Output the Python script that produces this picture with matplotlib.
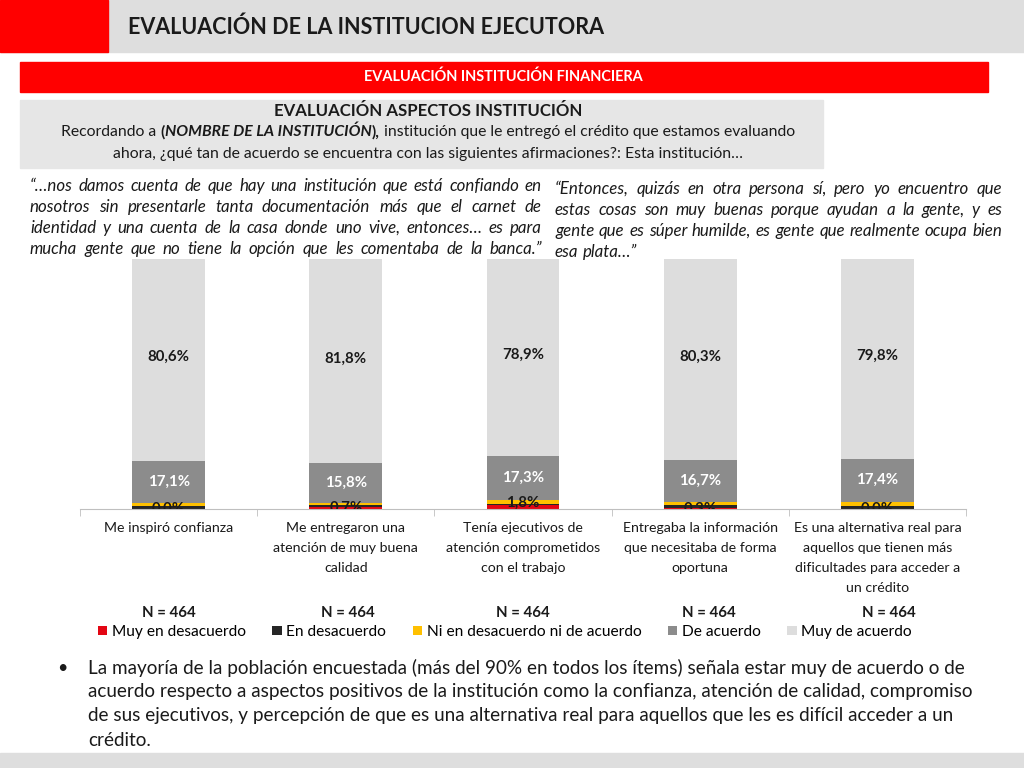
import numpy as np
import matplotlib.pyplot as plt
from matplotlib.patches import Rectangle

plt.rcParams['font.family'] = ['Lato', 'DejaVu Sans']

# Data
categories = ["Me inspiró confianza",
              "Me entregaron una\natención de muy buena\ncalidad",
              "Tenía ejecutivos de\natención comprometidos\ncon el trabajo",
              "Entregaba la información\nque necesitaba de forma\noportuna",
              "Es una alternativa real para\naquellos que tienen más\ndificultades para acceder a\nun crédito"]
series_names = ["Muy en desacuerdo", "En desacuerdo", "Ni en desacuerdo ni de acuerdo",
                "De acuerdo", "Muy de acuerdo"]
muy_desacuerdo = [0.0, 0.7, 1.8, 0.3, 0.0]
desacuerdo = [1.2, 0.9, 0.3, 1.3, 1.4]
ni_ni = [1.1, 0.9, 1.7, 1.4, 1.4]
de_acuerdo = [17.1, 15.8, 17.3, 16.7, 17.4]
muy_acuerdo = [80.6, 81.8, 78.9, 80.3, 79.8]
n_labels = ["N = 464"] * 5

colors = ['#E30613', '#262626', '#FFC000', '#8C8C8C', '#DDDDDD']
TXT = '#1a1a1a'

W, H = 1024, 768
fig = plt.figure(figsize=(W / 100, H / 100), dpi=100)
renderer = fig.canvas.get_renderer()


def fx(px):
    return px / W


def fy(py):
    return 1 - py / H


def width_px(t):
    return t.get_window_extent(renderer).width


def fit_text(x, y, s, target, size=12, **kw):
    # draw text and rescale the font so it spans target pixels
    t = fig.text(fx(x), fy(y), s, fontsize=size, va='center', **kw)
    t.set_fontsize(size * target / width_px(t))
    return t


def block_size(lines, target, size=10, **kw):
    # font size so that the widest line spans target pixels
    widest = 0
    for s in lines:
        t = fig.text(0, 0, s, fontsize=size, **kw)
        widest = max(widest, width_px(t))
        t.remove()
    return size * target / widest


def justify_line(x0, x1, y, s, size, last=False, **kw):
    words = s.split(' ')
    ts = [fig.text(0, fy(y), w, fontsize=size, va='center', **kw) for w in words]
    ws = [width_px(t) for t in ts]
    if last or len(words) == 1:
        gap = fig.text(0, 0, 'a a', fontsize=size, **kw)
        g2 = fig.text(0, 0, 'aa', fontsize=size, **kw)
        space = width_px(gap) - width_px(g2)
        gap.remove()
        g2.remove()
    else:
        space = (x1 - x0 - sum(ws)) / (len(words) - 1)
    pos = x0
    for t, w in zip(ts, ws):
        t.set_x(fx(pos))
        pos += w + space


def segments(x, y, parts, size, center=True):
    # parts: list of (text, kwargs); drawn one after the other on a line
    ts = [fig.text(0, fy(y), s, fontsize=size, va='center', color=TXT, **kw) for s, kw in parts]
    ws = [width_px(t) for t in ts]
    pos = x - sum(ws) / 2 if center else x
    for t, w in zip(ts, ws):
        t.set_x(fx(pos))
        pos += w


# Header
fig.patches.append(Rectangle((0, fy(52)), 1, 52 / H, transform=fig.transFigure, color='#DEDEDE'))
fig.patches.append(Rectangle((0, fy(52)), fx(108), 52 / H, transform=fig.transFigure, color='#FF0000'))
fit_text(128, 27, "EVALUACIÓN DE LA INSTITUCION EJECUTORA", target=476, size=17,
         fontweight='bold', color=TXT)
fig.patches.append(Rectangle((fx(20), fy(92)), fx(968), 30 / H, transform=fig.transFigure, color='#FF0000'))
t = fit_text(0, 77, "EVALUACIÓN INSTITUCIÓN FINANCIERA", target=280, size=10,
             fontweight='bold', color='white')
t.set_x(fx(503))
t.set_ha('center')

# Question box
fig.patches.append(Rectangle((fx(20), fy(168)), fx(803), 68 / H, transform=fig.transFigure, color='#E6E6E6'))
t = fit_text(0, 111, "EVALUACIÓN ASPECTOS INSTITUCIÓN", target=307, size=12,
             fontweight='bold', color=TXT)
t.set_x(fx(428))
t.set_ha('center')
segments(428, 132, [("Recordando a ", {}),
                    ("(", dict(fontweight='bold')),
                    ("NOMBRE DE LA INSTITUCIÓN", dict(fontweight='bold', fontstyle='italic')),
                    ("),", dict(fontweight='bold')),
                    (" institución que le entregó el crédito que estamos evaluando", {})], 11.3)
segments(428, 154, [("ahora, ¿qué tan de acuerdo se encuentra con las siguientes afirmaciones?: Esta institución…", {})], 11.3)

# Quotes
left_quote = ["“…nos damos cuenta de que hay una institución que está confiando en",
              "nosotros sin presentarle tanta documentación más que el carnet de",
              "identidad y una cuenta de la casa donde uno vive, entonces… es para",
              "mucha gente que no tiene la opción que les comentaba de la banca.”"]
right_quote = ["“Entonces, quizás en otra persona sí, pero yo encuentro que",
               "estas cosas son muy buenas porque ayudan a la gente, y es",
               "gente que es súper humilde, es gente que realmente ocupa bien",
               "esa plata…”"]
qsize = min(block_size(left_quote, 500, fontstyle='italic'),
            block_size(right_quote, 440, fontstyle='italic'))
for i, line in enumerate(left_quote):
    justify_line(30, 542, 186 + i * 21, line, qsize, fontstyle='italic', color=TXT)
for i, line in enumerate(right_quote):
    justify_line(555, 1002, 189 + i * 21, line, qsize, last=(i == len(right_quote) - 1),
                 fontstyle='italic', color=TXT)

# Chart
ax = fig.add_axes([fx(80), fy(509), fx(886), 250 / H])
x = np.arange(len(categories))
width = 0.41
stack = [muy_desacuerdo, desacuerdo, ni_ni, de_acuerdo, muy_acuerdo]
bottom = np.zeros(len(categories))
for vals, col, name in zip(stack, colors, series_names):
    ax.bar(x, vals, width, bottom=bottom, color=col, label=name)
    bottom += np.array(vals)

for i in range(len(categories)):
    b = muy_desacuerdo[i] + desacuerdo[i] + ni_ni[i]
    ax.text(x[i], b + de_acuerdo[i] / 2, f"{de_acuerdo[i]:.1f}%".replace('.', ','),
            ha='center', va='center', color='white', fontsize=10.8, fontweight='bold')
    ax.text(x[i], b + de_acuerdo[i] + muy_acuerdo[i] / 2 + 1, f"{muy_acuerdo[i]:.1f}%".replace('.', ','),
            ha='center', va='center', color=TXT, fontsize=10.8, fontweight='bold')
    ax.text(x[i], muy_desacuerdo[i] / 2 + (1.5 if muy_desacuerdo[i] > 1 else 0),
            f"{muy_desacuerdo[i]:.1f}%".replace('.', ','),
            ha='center', va='center', color=TXT, fontsize=10.8, fontweight='bold', clip_on=True)

ax.set_xlim(-0.5, len(categories) - 0.5)
ax.set_ylim(0, 100)
ax.set_yticks([])
for s in ['top', 'right', 'left']:
    ax.spines[s].set_visible(False)
ax.spines['bottom'].set_color('#BFBFBF')
ax.set_xticks(np.arange(len(categories) + 1) - 0.5, minor=True)
ax.set_xticks([])
ax.tick_params(axis='x', which='minor', length=5, color='#BFBFBF')

for i, cat in enumerate(categories):
    px = 80 + 886 * (i + 0.5) / len(categories)
    for j, line in enumerate(cat.split('\n')):
        fig.text(fx(px), fy(528 + j * 20), line, ha='center', va='center', fontsize=10.2,
                 color=TXT)
n_x = [169, 348, 523, 709, 889]
for px, lab in zip(n_x, n_labels):
    fig.text(fx(px), fy(613), lab, ha='center', va='center', fontsize=10.8,
             fontweight='bold', color=TXT)

fig.legend(loc='center', bbox_to_anchor=(fx(505), fy(632)), ncol=5, frameon=False,
           fontsize=11.2, handlelength=0.6, handleheight=0.6, handletextpad=0.3,
           columnspacing=1.7)

# Bullet text
bullet = ["La mayoría de la población encuestada (más del 90% en todos los ítems) señala estar muy de acuerdo o de",
          "acuerdo respecto a aspectos positivos de la institución como la confianza, atención de calidad, compromiso",
          "de sus ejecutivos, y percepción de que es una alternativa real para aquellos que les es difícil acceder a un",
          "crédito."]
fig.text(fx(57), fy(668), "•", fontsize=13, va='center', color=TXT)
t0 = fig.text(fx(88), fy(668), bullet[0], fontsize=13, va='center', color=TXT)
bsize = 13 * 870 / width_px(t0)
t0.set_fontsize(bsize)
for i, line in enumerate(bullet[1:], start=1):
    fig.text(fx(88), fy(668 + i * 24), line, fontsize=bsize, va='center', color=TXT)

fig.patches.append(Rectangle((0, 0), 1, 15 / H, transform=fig.transFigure, color='#DEDEDE'))

fig.savefig('out.png', dpi=100)
